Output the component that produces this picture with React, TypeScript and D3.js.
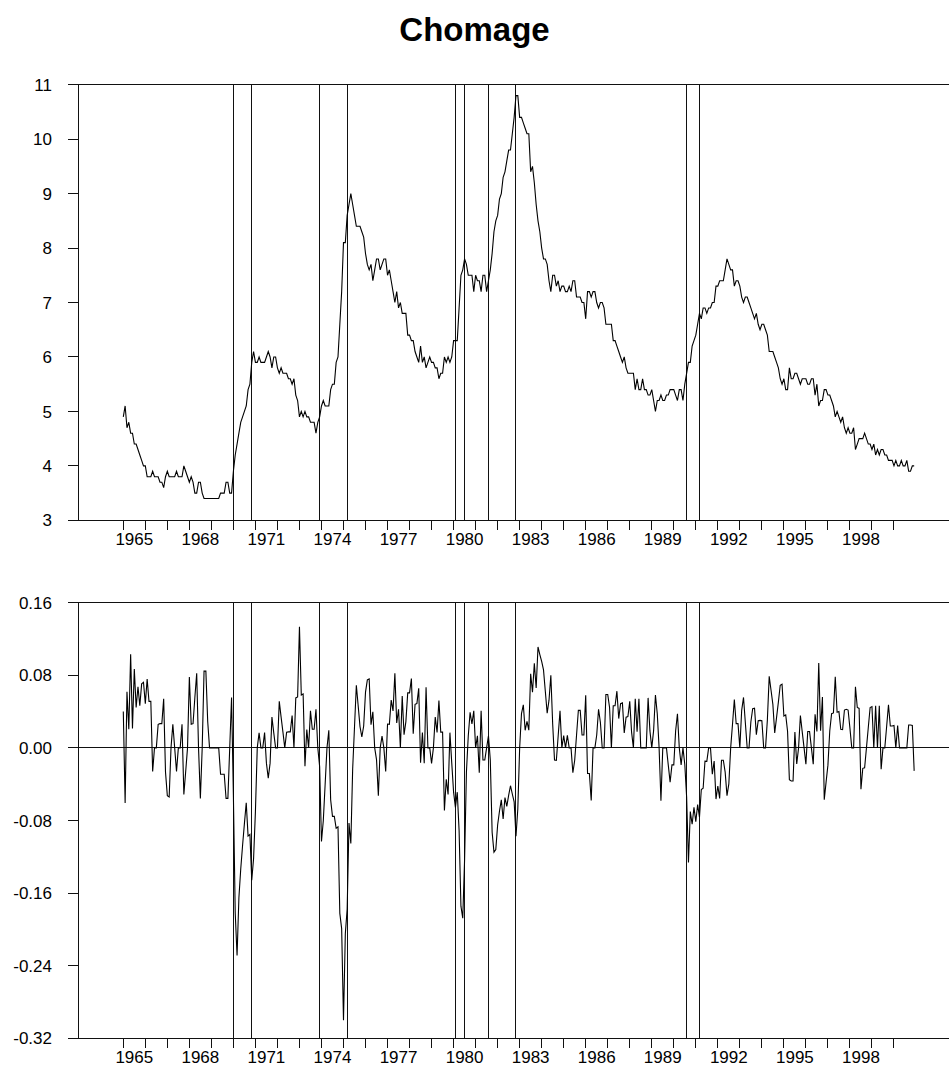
import { useEffect, useRef } from "react";
import * as d3 from "d3";

const title = "Chomage";
const startYear = 1965;

// taux de chomage mensuel (%), janvier 1965 - decembre 2000
const unemployment = [
  4.9, 5.1, 4.7, 4.8, 4.6, 4.6, 4.4, 4.4, 4.3, 4.2, 4.1, 4.0,
  4.0, 3.8, 3.8, 3.8, 3.9, 3.8, 3.8, 3.8, 3.7, 3.7, 3.6, 3.8,
  3.9, 3.8, 3.8, 3.8, 3.8, 3.9, 3.8, 3.8, 3.8, 4.0, 3.9, 3.8,
  3.7, 3.8, 3.7, 3.5, 3.5, 3.7, 3.7, 3.5, 3.4, 3.4, 3.4, 3.4,
  3.4, 3.4, 3.4, 3.4, 3.4, 3.5, 3.5, 3.5, 3.7, 3.7, 3.5, 3.5,
  3.9, 4.2, 4.4, 4.6, 4.8, 4.9, 5.0, 5.1, 5.4, 5.5, 5.9, 6.1,
  5.9, 5.9, 6.0, 5.9, 5.9, 5.9, 6.0, 6.1, 6.0, 5.8, 6.0, 6.0,
  5.8, 5.7, 5.8, 5.7, 5.7, 5.7, 5.6, 5.6, 5.5, 5.6, 5.3, 5.2,
  4.9, 5.0, 4.9, 5.0, 4.9, 4.9, 4.8, 4.8, 4.8, 4.6, 4.8, 4.9,
  5.1, 5.2, 5.1, 5.1, 5.1, 5.4, 5.5, 5.5, 5.9, 6.0, 6.6, 7.2,
  8.1, 8.1, 8.6, 8.8, 9.0, 8.8, 8.6, 8.4, 8.4, 8.4, 8.3, 8.2,
  7.9, 7.7, 7.6, 7.7, 7.4, 7.6, 7.8, 7.8, 7.6, 7.7, 7.8, 7.8,
  7.5, 7.6, 7.4, 7.2, 7.0, 7.2, 6.9, 7.0, 6.8, 6.8, 6.8, 6.4,
  6.4, 6.3, 6.3, 6.1, 6.0, 5.9, 6.2, 5.9, 6.0, 5.8, 5.9, 6.0,
  5.9, 5.9, 5.8, 5.8, 5.6, 5.7, 5.7, 6.0, 5.9, 6.0, 5.9, 6.0,
  6.3, 6.3, 6.3, 6.9, 7.5, 7.6, 7.8, 7.7, 7.5, 7.5, 7.5, 7.2,
  7.5, 7.4, 7.4, 7.2, 7.5, 7.5, 7.2, 7.4, 7.6, 7.9, 8.3, 8.5,
  8.6, 8.9, 9.0, 9.3, 9.4, 9.6, 9.8, 9.8, 10.1, 10.4, 10.8, 10.8,
  10.4, 10.4, 10.3, 10.2, 10.1, 10.1, 9.4, 9.5, 9.2, 8.8, 8.5, 8.3,
  8.0, 7.8, 7.8, 7.7, 7.4, 7.2, 7.5, 7.5, 7.3, 7.4, 7.2, 7.3,
  7.3, 7.2, 7.2, 7.3, 7.2, 7.4, 7.4, 7.1, 7.1, 7.1, 7.0, 7.0,
  6.7, 7.2, 7.2, 7.1, 7.2, 7.2, 7.0, 6.9, 7.0, 7.0, 6.9, 6.6,
  6.6, 6.6, 6.6, 6.3, 6.3, 6.2, 6.1, 6.0, 5.9, 6.0, 5.8, 5.7,
  5.7, 5.7, 5.7, 5.4, 5.6, 5.4, 5.4, 5.6, 5.4, 5.4, 5.3, 5.3,
  5.4, 5.2, 5.0, 5.2, 5.2, 5.3, 5.2, 5.2, 5.3, 5.3, 5.4, 5.4,
  5.4, 5.3, 5.2, 5.4, 5.4, 5.2, 5.5, 5.7, 5.9, 5.9, 6.2, 6.3,
  6.4, 6.6, 6.8, 6.7, 6.9, 6.9, 6.8, 6.9, 6.9, 7.0, 7.0, 7.3,
  7.3, 7.4, 7.4, 7.4, 7.6, 7.8, 7.7, 7.6, 7.6, 7.3, 7.4, 7.4,
  7.3, 7.1, 7.0, 7.1, 7.1, 7.0, 6.9, 6.8, 6.7, 6.8, 6.6, 6.5,
  6.6, 6.6, 6.5, 6.4, 6.1, 6.1, 6.1, 6.0, 5.9, 5.8, 5.6, 5.5,
  5.6, 5.4, 5.4, 5.8, 5.6, 5.6, 5.7, 5.7, 5.6, 5.5, 5.6, 5.6,
  5.6, 5.5, 5.5, 5.6, 5.6, 5.3, 5.5, 5.1, 5.2, 5.2, 5.4, 5.4,
  5.3, 5.3, 5.2, 5.1, 4.9, 5.0, 4.9, 4.8, 4.9, 4.7, 4.6, 4.7,
  4.6, 4.6, 4.7, 4.3, 4.4, 4.5, 4.5, 4.5, 4.6, 4.5, 4.4, 4.4,
  4.3, 4.4, 4.2, 4.3, 4.2, 4.3, 4.3, 4.2, 4.2, 4.1, 4.1, 4.1,
  4.0, 4.1, 4.0, 4.0, 4.1, 4.0, 4.0, 4.1, 3.9, 3.9, 4.0, 4.0,
];

// variation sur trois mois, en log, changee de signe
const change3m = [
  0.0400, -0.0606, 0.0619, 0.0206, 0.1032, 0.0215, 0.0870, 0.0445, 0.0674, 0.0465, 0.0706, 0.0723,
  0.0488, 0.0760, 0.0513, 0.0513, -0.0260, 0, 0, 0.0260, 0.0267, 0.0267, 0.0541, -0.0267,
  -0.0527, -0.0541, 0, 0.0260, 0, -0.0260, 0, 0, 0.0260, -0.0513, -0.0260, 0,
  0.0780, 0.0260, 0.0267, 0.0556, 0.0822, 0, -0.0556, 0, 0.0846, 0.0846, 0.0290, 0,
  0, 0, 0, 0, 0, -0.0290, -0.0290, -0.0290, -0.0556, -0.0556, 0, 0.0556,
  -0.0527, -0.1823, -0.2288, -0.1651, -0.1335, -0.1076, -0.0834, -0.0606, -0.0972, -0.0953, -0.1457, -0.1219,
  -0.0702, 0, 0.0165, 0, 0, 0.0168, -0.0168, -0.0333, -0.0168, 0.0339, 0.0165, 0,
  0, 0.0513, 0.0339, 0.0174, 0, 0.0174, 0.0177, 0.0177, 0.0357, 0, 0.0551, 0.0561,
  0.1335, 0.0583, 0.0594, -0.0202, 0.0202, 0, 0.0408, 0.0206, 0.0206, 0.0426, 0, -0.0206,
  -0.1032, -0.0800, -0.0400, 0, 0.0194, -0.0572, -0.0755, -0.0755, -0.0886, -0.0870, -0.1823, -0.1991,
  -0.3001, -0.2048, -0.1777, -0.0829, -0.1054, -0.0230, 0.0230, 0.0690, 0.0465, 0.0235, 0.0120, 0.0241,
  0.0614, 0.0750, 0.0760, 0.0256, 0.0397, 0, -0.0129, -0.0526, 0, 0.0129, 0, -0.0260,
  0.0263, 0.0260, 0.0526, 0.0408, 0.0822, 0.0274, 0.0426, 0, 0.0572, 0.0146, 0.0290, 0.0606,
  0.0606, 0.0764, 0.0157, 0.0480, 0.0488, 0.0656, -0.0163, 0.0168, -0.0168, 0.0667, 0, 0,
  -0.0171, 0, 0.0339, 0.0171, 0.0522, 0.0174, 0.0174, -0.0690, -0.0345, -0.0513, 0.0168, -0.0168,
  -0.0488, -0.0656, -0.0488, -0.0910, -0.1744, -0.1876, -0.1226, -0.0263, 0.0132, 0.0392, 0.0263, 0.0408,
  0, 0.0134, -0.0274, 0.0408, -0.0134, -0.0134, 0, 0.0134, -0.0132, -0.0928, -0.1148, -0.1119,
  -0.0849, -0.0698, -0.0572, -0.0783, -0.0547, -0.0645, -0.0524, -0.0417, -0.0508, -0.0594, -0.0972, -0.0670,
  0, 0.0377, 0.0474, 0.0194, 0.0293, 0.0196, 0.0817, 0.0613, 0.0933, 0.0660, 0.1112, 0.1029,
  0.0953, 0.0860, 0.0621, 0.0382, 0.0526, 0.0800, 0.0263, -0.0134, -0.0138, 0.0134, 0.0408, 0,
  0.0136, 0, 0.0138, 0, 0, -0.0274, -0.0136, 0.0140, 0.0414, 0.0414, 0.0142, 0.0142,
  0.0580, -0.0282, -0.0282, -0.0580, 0, 0, 0.0142, 0.0426, 0.0282, 0, 0, 0.0588,
  0.0588, 0.0445, 0, 0.0465, 0.0465, 0.0625, 0.0323, 0.0488, 0.0496, 0.0165, 0.0339, 0.0345,
  0.0513, 0.0174, 0, 0.0541, 0.0177, 0.0541, 0, 0, 0, 0, 0.0551, 0.0187,
  0, 0.0190, 0.0583, 0.0377, 0, -0.0583, 0, 0, 0, -0.0190, -0.0377, -0.0187,
  -0.0187, 0.0187, 0.0377, 0, -0.0187, 0, -0.0183, -0.0541, -0.1263, -0.0702, -0.0841, -0.0656,
  -0.0813, -0.0625, -0.0764, -0.0458, -0.0445, -0.0146, -0.0148, 0, 0, -0.0290, -0.0144, -0.0564,
  -0.0420, -0.0556, -0.0136, -0.0136, -0.0267, -0.0526, -0.0397, 0, 0.0260, 0.0533, 0.0267, 0.0267,
  0, 0.0414, 0.0556, 0.0278, 0, 0, 0.0286, 0.0432, 0.0438, 0.0146, 0.0299, 0.0303,
  0.0299, 0, 0, 0.0308, 0.0788, 0.0635, 0.0480, 0.0165, 0.0333, 0.0504, 0.0690, 0.0702,
  0.0351, 0.0364, 0.0183, -0.0351, -0.0364, -0.0364, 0.0174, -0.0177, 0, 0.0357, 0.0177, 0,
  -0.0180, 0.0180, 0.0180, 0, -0.0180, 0.0370, 0.0180, 0.0935, 0.0190, 0.0561, -0.0572, -0.0377,
  -0.0190, 0.0187, 0.0377, 0.0385, 0.0785, 0.0392, 0.0400, 0.0206, 0.0202, 0.0417, 0.0426, 0.0417,
  0.0215, 0, 0, 0.0674, 0.0445, 0.0435, -0.0455, -0.0225, -0.0220, 0, 0.0225, 0.0445,
  0.0455, 0, 0.0465, 0, 0.0465, -0.0235, 0, 0, 0.0235, 0.0476, 0.0241, 0.0241,
  0.0247, 0, 0.0247, 0, 0, 0, 0, 0, 0.0253, 0.0253, 0.0247, -0.0253,
];

// debut et fin des recessions (traits verticaux)
const recessionLines = [
  "1970-01", "1970-11", "1973-12", "1975-03", "1980-02",
  "1980-07", "1981-08", "1982-11", "1990-08", "1991-03",
];

const labelYears = [1965, 1968, 1971, 1974, 1977, 1980, 1983, 1986, 1989, 1992, 1995, 1998];
const topTicks = [3, 4, 5, 6, 7, 8, 9, 10, 11];
const bottomTicks = [-0.32, -0.24, -0.16, -0.08, 0, 0.08, 0.16];

export default function App() {
  const svgRef = useRef<SVGSVGElement | null>(null);

  useEffect(() => {
    if (!svgRef.current) return;
    const width = 949;
    const height = 1071;
    const left = 78;
    const right = 949;
    const tickLen = 10;
    const font = "'Liberation Sans', Arial, Helvetica, sans-serif";

    const svg = d3.select(svgRef.current);
    svg.selectAll("*").remove();
    svg.attr("width", width).attr("height", height).style("display", "block");

    const x = d3.scaleLinear().domain([1965, 2001]).range([123.3, 916]);
    const monthX = (i: number) => x(startYear + i / 12);
    const recIdx = recessionLines.map(s => {
      const [yy, mm] = s.split("-").map(Number);
      return (yy - startYear) * 12 + (mm - 1);
    });
    const fmt2 = d3.format(".2f");

    svg.append("text")
      .attr("x", width / 2).attr("y", 41)
      .attr("text-anchor", "middle")
      .attr("font-family", font).attr("font-size", 33).attr("font-weight", "bold")
      .text(title);

    function panel(series: number[], y: d3.ScaleLinear<number, number>, ticks: number[], fmt: (v: number) => string, zero: boolean) {
      const [bottom, top] = y.range();
      const g = svg.append("g");
      const ax = g.append("g").attr("stroke", "#111").attr("stroke-width", 1).attr("shape-rendering", "crispEdges");

      ax.append("line").attr("x1", left - tickLen).attr("x2", right).attr("y1", top).attr("y2", top);
      ax.append("line").attr("x1", left - tickLen).attr("x2", right).attr("y1", bottom).attr("y2", bottom);
      ax.append("line").attr("x1", left).attr("x2", left).attr("y1", top).attr("y2", bottom);

      ticks.forEach(t => {
        ax.append("line").attr("x1", left - tickLen).attr("x2", left).attr("y1", y(t)).attr("y2", y(t));
      });
      if (zero) {
        ax.append("line").attr("x1", left - tickLen).attr("x2", right).attr("y1", y(0)).attr("y2", y(0));
      }
      d3.range(1965, 2001).forEach(yr => {
        ax.append("line").attr("x1", x(yr)).attr("x2", x(yr)).attr("y1", bottom).attr("y2", bottom + tickLen);
      });
      recIdx.forEach(i => {
        ax.append("line").attr("x1", monthX(i)).attr("x2", monthX(i)).attr("y1", top).attr("y2", bottom);
      });

      g.selectAll("text.ylab")
        .data(ticks)
        .join("text")
        .attr("class", "ylab")
        .attr("x", 52).attr("y", d => y(d)).attr("dy", "0.36em")
        .attr("text-anchor", "end")
        .attr("font-family", font).attr("font-size", 17)
        .text(d => fmt(d));

      g.selectAll("text.xlab")
        .data(labelYears)
        .join("text")
        .attr("class", "xlab")
        .attr("x", d => x(d + 0.5)).attr("y", bottom + 25)
        .attr("text-anchor", "middle")
        .attr("font-family", font).attr("font-size", 17)
        .text(d => String(d));

      const line = d3.line<number>().x((_, i) => monthX(i)).y(d => y(d));
      g.append("path").datum(series)
        .attr("fill", "none").attr("stroke", "#000").attr("stroke-width", 1.1)
        .attr("stroke-linejoin", "miter")
        .attr("d", line);
    }

    panel(unemployment, d3.scaleLinear().domain([3, 11]).range([520.3, 84.7]), topTicks, d => String(d), false);
    panel(change3m, d3.scaleLinear().domain([-0.32, 0.16]).range([1038.3, 602.7]), bottomTicks,
      d => fmt2(d).replace("\u2212", "-"), true);
  }, []);

  return (
    <div style={{ position: "absolute", left: 0, top: 0 }}>
      <svg ref={svgRef}></svg>
    </div>
  );
}
